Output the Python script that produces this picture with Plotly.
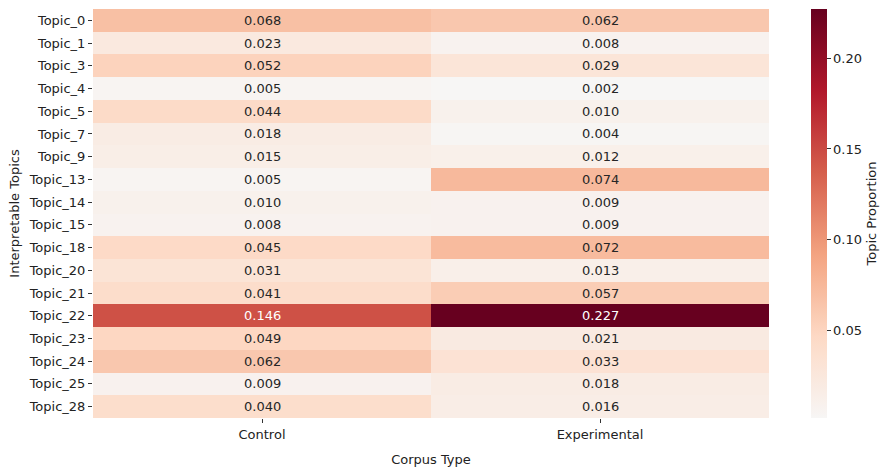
import plotly.graph_objects as go

# Topic proportions per corpus
topics = ["Topic_0", "Topic_1", "Topic_3", "Topic_4", "Topic_5", "Topic_7", "Topic_9",
          "Topic_13", "Topic_14", "Topic_15", "Topic_18", "Topic_20", "Topic_21",
          "Topic_22", "Topic_23", "Topic_24", "Topic_25", "Topic_28"]
corpora = ["Control", "Experimental"]
control = [0.068, 0.023, 0.052, 0.005, 0.044, 0.018, 0.015, 0.005, 0.010, 0.008,
           0.045, 0.031, 0.041, 0.146, 0.049, 0.062, 0.009, 0.040]
experimental = [0.062, 0.008, 0.029, 0.002, 0.010, 0.004, 0.012, 0.074, 0.009, 0.009,
                0.072, 0.013, 0.057, 0.227, 0.021, 0.033, 0.018, 0.016]

z = [[c, e] for c, e in zip(control, experimental)]
zmin = min(control + experimental)
zmax = max(control + experimental)

# Upper (red) half of a diverging red-blue map centred on zero
half_stops = [(0.0, (247, 247, 247)), (0.2, (253, 219, 199)), (0.4, (244, 165, 130)),
              (0.6, (214, 96, 77)), (0.8, (178, 24, 43)), (1.0, (103, 0, 31))]


def color_at(v):
    t = max(0.0, min(1.0, v / zmax))
    for (t0, c0), (t1, c1) in zip(half_stops[:-1], half_stops[1:]):
        if t <= t1:
            f = (t - t0) / (t1 - t0)
            return tuple(c0[i] + (c1[i] - c0[i]) * f for i in range(3))
    return half_stops[-1][1]


n = 40
colorscale = []
for i in range(n + 1):
    f = i / n
    r, g, b = color_at(zmin + f * (zmax - zmin))
    colorscale.append([f, f"rgb({r:.0f},{g:.0f},{b:.0f})"])


def luminance(rgb):
    vals = []
    for c in rgb:
        c = c / 255
        vals.append(c / 12.92 if c <= 0.03928 else ((c + 0.055) / 1.055) ** 2.4)
    return 0.2126 * vals[0] + 0.7152 * vals[1] + 0.0722 * vals[2]


font = "DejaVu Sans"

fig = go.Figure(go.Heatmap(
    z=z, x=corpora, y=topics, zmin=zmin, zmax=zmax, colorscale=colorscale,
    showscale=True,
    colorbar=dict(
        x=1.062, xanchor="left", y=0.5, yanchor="middle", len=1.0, lenmode="fraction",
        thickness=16, outlinewidth=0, ypad=0, xpad=0,
        ticks="outside", ticklen=4, tickcolor="#333",
        tickvals=[0.05, 0.10, 0.15, 0.20], ticktext=["0.05", "0.10", "0.15", "0.20"],
        tickfont=dict(family=font, size=13, color="#222"),
        title=dict(text="Topic Proportion", side="right",
                   font=dict(family=font, size=13, color="#222")),
    ),
    hoverongaps=False,
))

annotations = []
for ti, topic in enumerate(topics):
    for ci, corpus in enumerate(corpora):
        v = z[ti][ci]
        col = "white" if luminance(color_at(v)) < 0.408 else "#262626"
        annotations.append(dict(x=corpus, y=topic, text=f"{v:.3f}", showarrow=False,
                                font=dict(family=font, size=13, color=col)))

fig.update_layout(
    width=886, height=474,
    margin=dict(l=93, r=117, t=9, b=56, autoexpand=False),
    paper_bgcolor="white", plot_bgcolor="white",
    annotations=annotations,
    font=dict(family=font, size=13, color="#222"),
    xaxis=dict(showgrid=False, zeroline=False, ticks="outside", ticklen=4, tickcolor="#333",
               tickfont=dict(family=font, size=13, color="#222"),
               title=dict(text="Corpus Type", standoff=14,
                          font=dict(family=font, size=13, color="#222"))),
    yaxis=dict(showgrid=False, zeroline=False, autorange="reversed", ticks="outside",
               ticklen=4, tickcolor="#333",
               tickfont=dict(family=font, size=13, color="#222"),
               title=dict(text="Interpretable Topics", standoff=6,
                          font=dict(family=font, size=13, color="#222"))),
)

fig.write_html("out.html")
